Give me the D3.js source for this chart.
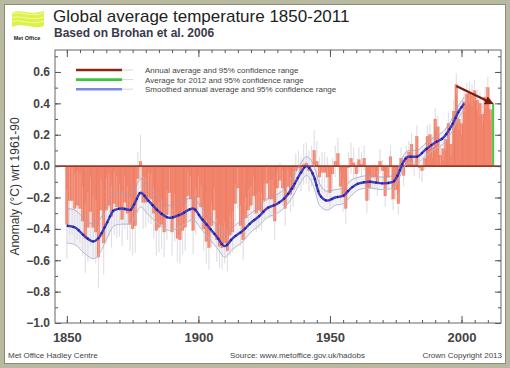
<!DOCTYPE html>
<html><head><meta charset="utf-8">
<script src="https://cdn.jsdelivr.net/npm/d3@7"></script>
<style>
html,body{margin:0;padding:0;background:#fff;}
svg{display:block;font-family:"Liberation Sans",Arial,sans-serif;}
</style></head>
<body><svg id="c" width="510" height="368"></svg>
<script>
// ---------------- data ----------------
const firstYear = 1850;
const anomalies = [
-0.37,-0.22,-0.22,-0.27,-0.25,-0.27,-0.35,-0.46,-0.39,-0.29,
-0.39,-0.42,-0.58,-0.28,-0.49,-0.28,-0.25,-0.32,-0.24,-0.26,
-0.28,-0.34,-0.23,-0.30,-0.37,-0.40,-0.38,-0.08,0.03,-0.23,
-0.23,-0.20,-0.21,-0.30,-0.41,-0.39,-0.37,-0.42,-0.31,-0.17,
-0.42,-0.33,-0.46,-0.47,-0.41,-0.39,-0.19,-0.21,-0.41,-0.29,
-0.20,-0.26,-0.40,-0.48,-0.52,-0.38,-0.28,-0.47,-0.51,-0.52,
-0.49,-0.54,-0.44,-0.42,-0.24,-0.14,-0.38,-0.47,-0.33,-0.28,
-0.25,-0.19,-0.30,-0.28,-0.29,-0.22,-0.11,-0.21,-0.21,-0.35,
-0.14,-0.09,-0.14,-0.27,-0.13,-0.18,-0.15,-0.03,-0.01,-0.05,
0.01,0.02,-0.03,0.00,0.10,0.03,-0.07,-0.04,-0.04,-0.07,
-0.17,-0.05,0.03,0.08,-0.13,-0.19,-0.27,-0.01,0.05,0.02,
-0.05,0.04,0.01,0.05,-0.22,-0.14,-0.07,-0.07,-0.11,0.03,
-0.03,-0.19,-0.07,0.06,-0.21,-0.15,-0.24,0.05,-0.06,0.06,
0.09,0.14,0.01,0.19,-0.01,-0.03,0.05,0.19,0.20,0.12,
0.30,0.25,0.07,0.11,0.17,0.27,0.14,0.35,0.52,0.30,
0.27,0.41,0.46,0.47,0.45,0.48,0.42,0.40,0.33,0.44,
0.50,0.36];
// 95% half-range of annual values, one per decade (1850s ... 2010s)
const errByDecade = [0.22,0.20,0.17,0.16,0.15,0.14,0.13,0.12,0.11,0.13,0.10,0.08,0.07,0.07,0.07,0.07,0.07];

const smoothYears = [1850,1853,1857,1860,1862,1865,1868,1871,1874,1876,1878,1881,1885,1889,1893,1898,1901,1904,1907,1910,1913,1917,1920,1923,1926,1930,1933,1936,1939,1941,1944,1946,1949,1952,1955,1958,1961,1965,1970,1974,1976,1978,1980,1983,1986,1990,1993,1996,1999,2001];
const smoothValues = [-0.38,-0.39,-0.45,-0.48,-0.46,-0.37,-0.28,-0.27,-0.28,-0.23,-0.17,-0.22,-0.29,-0.33,-0.31,-0.27,-0.33,-0.39,-0.45,-0.51,-0.46,-0.41,-0.36,-0.32,-0.27,-0.24,-0.20,-0.13,-0.04,0.00,-0.07,-0.18,-0.22,-0.20,-0.19,-0.14,-0.11,-0.10,-0.11,-0.10,-0.05,0.03,0.06,0.06,0.10,0.15,0.18,0.25,0.35,0.40];
const smoothUnc = [0.11,0.11,0.11,0.11,0.11,0.10,0.10,0.10,0.09,0.09,0.09,0.09,0.08,0.08,0.08,0.07,0.07,0.07,0.07,0.07,0.07,0.07,0.06,0.06,0.06,0.06,0.06,0.06,0.06,0.06,0.07,0.07,0.06,0.05,0.05,0.05,0.04,0.04,0.04,0.04,0.04,0.04,0.04,0.04,0.04,0.04,0.04,0.04,0.04,0.04];

const year2012 = 2012, value2012 = 0.40;
const arrowFrom = [1998, 0.51], arrowTo = [2011.6, 0.40];

const yTicks = [-1.0,-0.8,-0.6,-0.4,-0.2,0.0,0.2,0.4,0.6];
const xTicks = [1850,1900,1950,2000];

const legendLabels = ["Annual average and 95% confidence range","Average for 2012 and 95% confidence range","Smoothed annual average and 95% confidence range"];
const legendColors = ["#8e2414","#3cc43c","#7c88e4"];

// ---------------- drawing ----------------
const svg = d3.select("#c");
// frame
svg.append("rect").attr("x",0).attr("y",0).attr("width",510).attr("height",368).attr("fill","#b9b9a2");
svg.append("rect").attr("x",4.5).attr("y",4.5).attr("width",501).attr("height",359).attr("fill","#fff").attr("stroke","#8c8c78").attr("stroke-width",1);

const L=55, R=501, T=50, B=323;
const x = d3.scaleLinear().domain([1845.5,2015]).range([L,R]);
const y = d3.scaleLinear().domain([-1.0,0.74]).range([B,T]);

const data = anomalies.map((v,i)=>({year:firstYear+i, v, e:errByDecade[Math.floor(i/10)]}));
const smooth = smoothYears.map((yr,i)=>({year:yr, v:smoothValues[i], u:smoothUnc[i]}));

const g = svg.append("g");
// band fill
g.append("path").datum(smooth)
 .attr("d", d3.area().x(d=>x(d.year)).y0(d=>y(d.v-d.u)).y1(d=>y(d.v+d.u)).curve(d3.curveMonotoneX))
 .attr("fill","#f1f1f6");

// error bars (below bars)
g.selectAll("line.err").data(data).join("line").attr("class","err")
 .attr("x1",d=>x(d.year)).attr("x2",d=>x(d.year))
 .attr("y1",d=>y(d.v-d.e)).attr("y2",d=>y(d.v+d.e))
 .attr("stroke","#d6d6de").attr("stroke-width",1);

// bars
g.selectAll("rect.bar").data(data).join("rect").attr("class","bar")
 .attr("x",d=>x(d.year-0.5)).attr("width",d=>x(d.year+0.5)-x(d.year-0.5))
 .attr("y",d=>y(Math.max(0,d.v))).attr("height",d=>Math.abs(y(d.v)-y(0)))
 .attr("fill","#f3836a").attr("stroke","#e26a52").attr("stroke-width",0.3);

// faint error-bar traces over bars
g.selectAll("line.err2").data(data).join("line").attr("class","err2")
 .attr("x1",d=>x(d.year)).attr("x2",d=>x(d.year))
 .attr("y1",d=>y(d.v-d.e)).attr("y2",d=>y(d.v+d.e))
 .attr("stroke","#fff").attr("stroke-width",0.8).attr("opacity",0.25);

// 2012
g.append("rect").attr("x",x(year2012-0.4)).attr("width",x(year2012+0.4)-x(year2012-0.4))
 .attr("y",y(value2012)).attr("height",y(0)-y(value2012)).attr("fill","#44cc44");

// zero line
g.append("line").attr("x1",L).attr("x2",R).attr("y1",y(0)).attr("y2",y(0))
 .attr("stroke","#9a3a28").attr("stroke-width",1.6);

// band lines
const lineU = d3.line().x(d=>x(d.year)).y(d=>y(d.v+d.u)).curve(d3.curveMonotoneX);
const lineL = d3.line().x(d=>x(d.year)).y(d=>y(d.v-d.u)).curve(d3.curveMonotoneX);
g.append("path").datum(smooth).attr("d",lineU).attr("fill","none").attr("stroke","#a69cc4").attr("stroke-width",1).attr("opacity",0.8);
g.append("path").datum(smooth).attr("d",lineL).attr("fill","none").attr("stroke","#b4bad2").attr("stroke-width",1);

// smoothed line
const lineS = d3.line().x(d=>x(d.year)).y(d=>y(d.v)).curve(d3.curveMonotoneX);
g.append("path").datum(smooth).attr("d",lineS).attr("fill","none").attr("stroke","#3f3cc4").attr("stroke-width",2.4);
g.append("path").datum(smooth).attr("d",lineS).attr("fill","none").attr("stroke","#1c1a78").attr("stroke-width",2.4).attr("stroke-dasharray","1.2,5");

// arrow
svg.append("defs").append("marker").attr("id","ah").attr("viewBox","0 0 10 10").attr("refX",8).attr("refY",5)
 .attr("markerWidth",4).attr("markerHeight",4).attr("orient","auto")
 .append("path").attr("d","M0,0L10,5L0,10Z").attr("fill","#7e1a0c");
g.append("line").attr("x1",x(arrowFrom[0])).attr("y1",y(arrowFrom[1])).attr("x2",x(arrowTo[0])).attr("y2",y(arrowTo[1]))
 .attr("stroke","#7e1a0c").attr("stroke-width",2.2).attr("marker-end","url(#ah)");

// axes
const axisCol = "#555";
function styleAxis(sel){ sel.select(".domain").remove(); sel.selectAll("line").attr("stroke",axisCol); }
const yMinor = d3.range(-10,8).map(k=>k/10);
svg.append("g").attr("transform",`translate(${L},0)`).call(d3.axisLeft(y).tickValues(yMinor).tickSize(-3).tickFormat("")).call(styleAxis);
svg.append("g").attr("transform",`translate(${R},0)`).call(d3.axisRight(y).tickValues(yMinor).tickSize(-3).tickFormat("")).call(styleAxis);
const ya = svg.append("g").attr("transform",`translate(${L},0)`)
 .call(d3.axisLeft(y).tickValues(yTicks).tickSize(-6).tickPadding(5).tickFormat(d3.format(".1f")));
ya.call(styleAxis);
ya.selectAll("text").attr("font-size",12).attr("font-weight","bold").attr("fill","#444").attr("font-family","Liberation Sans, Arial");
svg.append("g").attr("transform",`translate(${R},0)`).call(d3.axisRight(y).tickValues(yTicks).tickSize(-6).tickFormat("")).call(styleAxis);

const xMinor = d3.range(1850,2015,5);
svg.append("g").attr("transform",`translate(0,${B})`).call(d3.axisBottom(x).tickValues(xMinor).tickSize(-3).tickFormat("")).call(styleAxis);
svg.append("g").attr("transform",`translate(0,${T})`).call(d3.axisTop(x).tickValues(xMinor).tickSize(-3).tickFormat("")).call(styleAxis);
const xa = svg.append("g").attr("transform",`translate(0,${B})`)
 .call(d3.axisBottom(x).tickValues(xTicks).tickSize(-7).tickPadding(10).tickFormat(d3.format("d")));
xa.call(styleAxis);
xa.selectAll("text").attr("font-size",13).attr("font-weight","bold").attr("fill","#444").attr("font-family","Liberation Sans, Arial");
svg.append("g").attr("transform",`translate(0,${T})`).call(d3.axisTop(x).tickValues(xTicks).tickSize(-7).tickFormat("")).call(styleAxis);

svg.append("rect").attr("x",L).attr("y",T).attr("width",R-L).attr("height",B-T).attr("fill","none").attr("stroke","#666").attr("stroke-width",1);

// y label
svg.append("text").attr("transform",`translate(19,${(T+B)/2}) rotate(-90)`).attr("text-anchor","middle")
 .attr("font-size",12).attr("fill","#333").text("Anomaly (°C) wrt 1961-90");

// legend
const lg = svg.append("g");
legendLabels.forEach((t,i)=>{
  const yy = 70 + i*9.6;
  lg.append("line").attr("x1",122).attr("x2",133).attr("y1",yy).attr("y2",yy).attr("stroke","#ccc").attr("stroke-width",0.8);
  lg.append("line").attr("x1",76).attr("x2",122).attr("y1",yy).attr("y2",yy).attr("stroke",legendColors[i]).attr("stroke-width",2.6);
  lg.append("text").attr("x",145).attr("y",yy+3).attr("font-size",8).attr("fill","#444").text(t);
});

// titles
svg.append("text").attr("x",53).attr("y",22).attr("font-size",17).attr("fill","#222").text("Global average temperature 1850-2011");
svg.append("text").attr("x",54).attr("y",37).attr("font-size",12).attr("font-weight","bold").attr("fill","#3a3a4a").text("Based on Brohan et al. 2006");

// logo
const logo = svg.append("g");
logo.append("path").attr("d","M12,13 C20,8 28,16 44,11 L44,26 C32,30 24,22 12,27 Z").attr("fill","#dcf24a");
[14,18,22].forEach(v=>{
  logo.append("path").attr("d",`M12,${v} C20,${v-4} 30,${v+4} 44,${v-1}`).attr("fill","none").attr("stroke","#f2fca0").attr("stroke-width",1);
});
logo.append("text").attr("x",27).attr("y",40).attr("text-anchor","middle").attr("font-size",5.5).attr("font-weight","bold").attr("fill","#222").text("Met Office");

// footer
const ft = svg.append("g").attr("font-size",8).attr("fill","#444");
ft.append("text").attr("x",8).attr("y",358).text("Met Office Hadley Centre");
ft.append("text").attr("x",230).attr("y",358).text("Source: www.metoffice.gov.uk/hadobs");
ft.append("text").attr("x",502).attr("y",358).attr("text-anchor","end").text("Crown Copyright 2013");
</script></body></html>
